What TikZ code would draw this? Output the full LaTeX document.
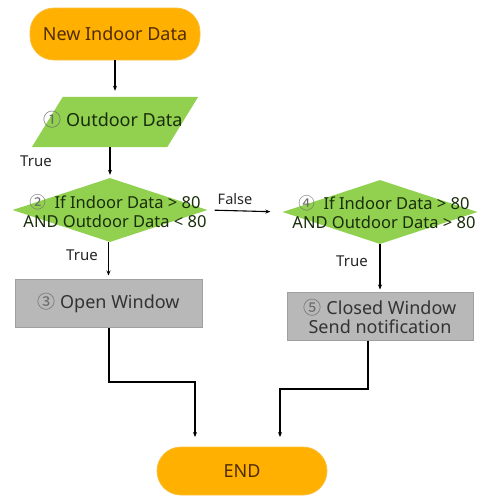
\documentclass[tikz,border=0pt]{standalone}
\usepackage{fontspec}
\setmainfont{Noto Sans}
\newfontfamily\cjk{Noto Sans CJK KR}
\usetikzlibrary{shapes.geometric,arrows.meta}
\definecolor{pill}{RGB}{255,176,0}
\definecolor{pillline}{RGB}{250,190,60}
\definecolor{leaf}{RGB}{146,208,80}
\definecolor{boxfill}{RGB}{184,184,184}
\definecolor{boxline}{RGB}{160,160,160}
\definecolor{brown}{RGB}{80,45,0}
\definecolor{darkleaf}{RGB}{25,45,10}
\definecolor{numgray}{RGB}{105,105,105}
\newcommand{\circnum}[1]{{\cjk\color{numgray}#1}}
\tikzset{
  x=1pt, y=1pt,
  every node/.style={font=\fontsize{18}{19}\selectfont, inner sep=0pt},
  pillbox/.style={rectangle, rounded corners=24pt, fill=pill, draw=pillline,
    line width=0.8pt, text=brown},
  datashape/.style={rectangle, minimum width=135pt, minimum height=50pt},
  decision/.style={diamond, fill=leaf, minimum width=195pt, minimum height=64pt, aspect=3},
  decisiontext/.style={align=center, text=darkleaf, font=\fontsize{16.5}{18.5}\selectfont},
  action/.style={rectangle, fill=boxfill, draw=boxline, line width=1pt, text=black!80},
  flow/.style={line width=1.1pt, -{Stealth[length=5pt,width=4pt]}},
  branch/.style={font=\fontsize{15}{16}\selectfont, text=black!85}
}
\begin{document}
\begin{tikzpicture}
\useasboundingbox (0,0) rectangle (483,-496);

% start and end terminals
\node[pillbox, minimum width=170pt, minimum height=52pt] (start) at (115,-34) {New Indoor Data};
\node[pillbox, minimum width=170pt, minimum height=48pt] (finish) at (242,-471) {END};

% outdoor data input (parallelogram)
\node[datashape] (od) at (115,-122) {};
\fill[leaf] ([xshift=15.5pt]od.north west) -- ([xshift=15.5pt]od.north east)
  -- ([xshift=-15.5pt]od.south east) -- ([xshift=-15.5pt]od.south west) -- cycle;
\node[text=darkleaf] (odtext) at (113,-120) {\circnum{①} Outdoor Data};

% decisions
\node[decision] (d1) at (110,-210) {};
\node[decisiontext] (d1text) at (115,-211) {\circnum{②}\ \ If Indoor Data > 80\\AND Outdoor Data < 80};
\node[decision] (d2) at (380,-212) {};
\node[decisiontext] (d2text) at (384,-212) {\circnum{④}\ \ If Indoor Data > 80\\AND Outdoor Data > 80};

% actions
\node[action, minimum width=187pt, minimum height=48pt] (b3) at (108.5,-303) {\circnum{③} Open Window};
\node[action, minimum width=186pt, minimum height=48pt, align=center] (b5) at (380,-316) {\circnum{⑤} Closed Window\\Send notification};

% connectors
\draw[flow, shorten >=6pt] (start.south -| od.north) -- (od.north);
\draw[flow, shorten >=3pt] (od.south -| d1.north) -- (d1.north);
\draw[flow, shorten >=3pt] (d1.south -| b3.north) -- (b3.north);
\draw[flow, shorten <=7pt, shorten >=12pt] (d1.east) -- (d2.west);
\draw[flow, shorten >=2pt] (d2.south) -- (d2.south |- b5.north);
\coordinate (j3) at (109,-382);
\coordinate (e3) at (195,-437);
\coordinate (j5) at (368,-389);
\coordinate (e5) at (280,-437);
\draw[flow] (b3.south -| j3) -- (j3) -| (e3);
\draw[flow] (b5.south -| j5) -- (j5) -| (e5);

% branch labels
\node[branch] (t1) at (36,-161) {True};
\node[branch] (t2) at (82,-255) {True};
\node[branch] (t4) at (352,-261) {True};
\node[branch, font=\fontsize{14.5}{16}\selectfont] (f2) at (235,-199) {False};
\end{tikzpicture}
\end{document}
